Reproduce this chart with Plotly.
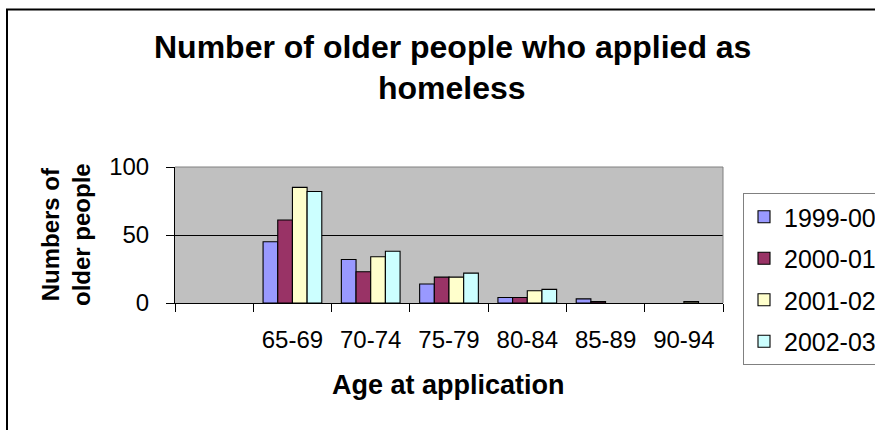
import plotly.graph_objects as go

categories = [" ", "65-69", "70-74", "75-79", "80-84", "85-89", "90-94"]
series_names = ["1999-00", "2000-01", "2001-02", "2002-03"]
v1999 = [None, 45, 32, 14, 4, 3, 0]
v2000 = [None, 61, 23, 19, 4, 1, 0]
v2001 = [None, 85, 34, 19, 9, 0, 1]
v2002 = [None, 82, 38, 22, 10, 0, 0]
colors = ["#9999FF", "#993366", "#FFFFCC", "#CCFFFF"]
y_ticks = [0, 50, 100]

FONT = "Arial, Liberation Sans, sans-serif"

fig = go.Figure()
for i, (name, vals) in enumerate(zip(series_names, [v1999, v2000, v2001, v2002])):
    # zero-height bars get no outline (as in the original chart)
    widths = [0 if v == 0 else 1.1 for v in vals]
    fig.add_trace(go.Bar(
        x=categories, y=vals, name=name,
        marker=dict(color=colors[i], line=dict(color="black", width=widths)),
        legendgroup=name,
    ))

L, R, T, B = 175, 152, 167, 127
W, H = 875, 430
pw, ph = W - L - R, H - T - B


def px_x(p):
    return (p - L) / pw


def px_y(p):
    return (H - B - p) / ph


fig.update_layout(
    width=W, height=H,
    margin=dict(l=L, r=R, t=T, b=B, autoexpand=False),
    paper_bgcolor="white",
    plot_bgcolor="#C0C0C0",
    barmode="group",
    bargap=0.25,
    bargroupgap=0,
    font=dict(family=FONT, size=24, color="black"),
    showlegend=True,
    legend=dict(
        x=px_x(743), y=px_y(193), xanchor="left", yanchor="top",
        bgcolor="white", bordercolor="#808080", borderwidth=1,
        font=dict(family=FONT, size=25, color="black"),
        tracegroupgap=6,
        traceorder="grouped",
        maxheight=400,
    ),
    xaxis=dict(
        type="category",
        categoryorder="array", categoryarray=categories,
        range=[-0.5, 6.5],
        showline=True, linecolor="black", linewidth=1,
        ticks="outside", ticklen=8, tickcolor="black", tickwidth=1,
        tickson="boundaries",
        showgrid=False,
        tickfont=dict(family=FONT, size=24, color="black"),
        ticklabelstandoff=15,
    ),
    yaxis=dict(
        range=[0, 100],
        tickvals=y_ticks,
        showline=True, linecolor="black", linewidth=1,
        ticks="outside", ticklen=8, tickcolor="black", tickwidth=1,
        showgrid=True, gridcolor="black", gridwidth=1,
        zeroline=False,
        tickfont=dict(family=FONT, size=24, color="black"),
        ticklabelstandoff=12,
    ),
    shapes=[
        dict(type="path", xref="paper", yref="paper",
             path="M 0,1 L 1,1 L 1,0", line=dict(color="#808080", width=1)),
        dict(type="rect", xref="paper", yref="paper",
             x0=px_x(7), x1=px_x(1000), y0=px_y(9.5), y1=px_y(600),
             line=dict(color="black", width=2)),
    ],
    annotations=[
        dict(text="<b>Number of older people who applied as</b>", xref="paper", yref="paper",
             x=px_x(452), y=px_y(47), xanchor="center", yanchor="middle", showarrow=False,
             font=dict(family=FONT, size=32, color="black")),
        dict(text="<b>homeless</b>", xref="paper", yref="paper",
             x=px_x(452), y=px_y(88), xanchor="center", yanchor="middle", showarrow=False,
             font=dict(family=FONT, size=32, color="black")),
        dict(text="<b>Numbers of<br>older people</b>", xref="paper", yref="paper",
             x=px_x(66), y=0.5, xanchor="center", yanchor="middle", showarrow=False,
             textangle=-90, font=dict(family=FONT, size=24, color="black")),
        dict(text="<b>Age at application</b>", xref="paper", yref="paper",
             x=px_x(448), y=px_y(385), xanchor="center", yanchor="middle", showarrow=False,
             font=dict(family=FONT, size=27, color="black")),
    ],
)

fig.write_html("out.html")
